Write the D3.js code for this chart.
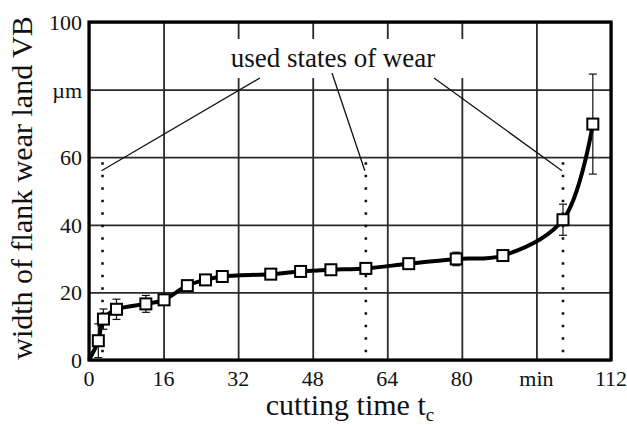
<!DOCTYPE html>
<html lang="en">
  <head>
    <meta charset="utf-8">
    <title>Flank wear over cutting time</title>
    <script src="https://d3js.org/d3.v7.js"></script>
  </head>

  <body style="margin: 0; background: white;">

  <script>

// data

  const cuttingTime = [2.0, 3.1, 5.9, 12.2, 16.1, 21.1, 25.0, 28.6, 39.0, 45.4, 51.9, 59.4, 68.6, 78.8, 88.8, 101.7, 108.1];
  const wearVB      = [5.7, 12.1, 15.0, 16.6, 17.8, 22.0, 23.7, 24.7, 25.4, 26.2, 26.7, 27.1, 28.5, 29.9, 30.9, 41.5, 69.8];
  const wearErr     = [5.0, 3.0, 3.0, 2.5, 1.5, 0.8, 0.8, 0.8, 0.6, 0.6, 0.6, 0.8, 0.8, 2.0, 1.5, 4.6, 14.8];
  const usedStates  = [2.9, 59.4, 101.7];
  const xTicks = [0, 16, 32, 48, 64, 80, 96, 112];
  const xTickLabels = ["0", "16", "32", "48", "64", "80", "min", "112"];
  const yTicks = [0, 20, 40, 60, 80, 100];
  const yTickLabels = ["0", "20", "40", "60", "µm", "100"];

  const w = 627;
  const h = 425;
  const margin = {top: 22, right: 16, bottom: 65, left: 89};
  const innerWidth = w - margin.left - margin.right;
  const innerHeight = h - margin.top - margin.bottom;
  const serif = "'Liberation Serif', 'Times New Roman', serif";

  const xScale = d3.scaleLinear()
      .domain([0, 112])
      .range([0, innerWidth]);

  const yScale = d3.scaleLinear()
      .domain([0, 100])
      .range([innerHeight, 0]);

  const svg = d3.select("body")
    .append("svg")
      .attr("width", w)
      .attr("height", h)
      .attr("font-family", serif);

  const plot = svg.append("g")
      .attr("transform", `translate(${margin.left}, ${margin.top})`);

// grid

  plot.append("g")
      .attr("class", "xGrid")
      .call(d3.axisBottom(xScale).tickValues(xTicks).tickSize(innerHeight).tickFormat(""))
      .call(g => g.select(".domain").remove())
      .selectAll("line")
      .attr("stroke", "#2a2a2a")
      .attr("stroke-width", 1.8);

  plot.append("g")
      .attr("class", "yGrid")
      .call(d3.axisLeft(yScale).tickValues(yTicks).tickSize(-innerWidth).tickFormat(""))
      .call(g => g.select(".domain").remove())
      .selectAll("line")
      .attr("stroke", "#2a2a2a")
      .attr("stroke-width", 1.8);

// white box behind the annotation text

  plot.append("rect")
      .attr("x", 138)
      .attr("y", 17)
      .attr("width", 250)
      .attr("height", 39)
      .attr("fill", "white");

  plot.append("text")
      .attr("x", 244)
      .attr("y", 45)
      .attr("text-anchor", "middle")
      .attr("font-size", 27)
      .attr("fill", "#111")
      .text("used states of wear");

// leader lines and dotted markers

  const leaderStart = [[171, 56], [243, 51], [345, 56]];

  plot.selectAll("line.leader")
    .data(usedStates)
    .enter().append("line")
      .attr("class", "leader")
      .attr("x1", (d, i) => leaderStart[i][0])
      .attr("y1", (d, i) => leaderStart[i][1])
      .attr("x2", d => xScale(d) - 1)
      .attr("y2", yScale(56))
      .attr("stroke", "#111")
      .attr("stroke-width", 1.3);

  plot.selectAll("line.used")
    .data(usedStates)
    .enter().append("line")
      .attr("class", "used")
      .attr("x1", d => xScale(d))
      .attr("x2", d => xScale(d))
      .attr("y1", yScale(58.5))
      .attr("y2", yScale(0))
      .attr("stroke", "#111")
      .attr("stroke-width", 2.6)
      .attr("stroke-dasharray", "2.6 9.9");

// curve through the measurements

  const curvePts = [[0, 0]].concat(cuttingTime.map((t, i) => [t, wearVB[i]]));

  plot.append("path")
      .datum(curvePts)
      .attr("fill", "none")
      .attr("stroke", "black")
      .attr("stroke-width", 4)
      .attr("d", d3.line()
        .x(d => xScale(d[0]))
        .y(d => yScale(d[1]))
        .curve(d3.curveCatmullRom.alpha(0.5)));

// error bars

  const errs = plot.selectAll("g.err")
    .data(cuttingTime)
    .enter().append("g")
      .attr("class", "err")
      .attr("stroke", "#111")
      .attr("stroke-width", 1.2);

  errs.append("line")
      .attr("x1", d => xScale(d))
      .attr("x2", d => xScale(d))
      .attr("y1", (d, i) => yScale(wearVB[i] + wearErr[i]))
      .attr("y2", (d, i) => yScale(wearVB[i] - wearErr[i]));

  errs.append("line")
      .attr("x1", d => xScale(d) - 4)
      .attr("x2", d => xScale(d) + 4)
      .attr("y1", (d, i) => yScale(wearVB[i] + wearErr[i]))
      .attr("y2", (d, i) => yScale(wearVB[i] + wearErr[i]));

  errs.append("line")
      .attr("x1", d => xScale(d) - 4)
      .attr("x2", d => xScale(d) + 4)
      .attr("y1", (d, i) => yScale(wearVB[i] - wearErr[i]))
      .attr("y2", (d, i) => yScale(wearVB[i] - wearErr[i]));

// square markers

  plot.selectAll("rect.pt")
    .data(cuttingTime)
    .enter().append("rect")
      .attr("class", "pt")
      .attr("x", d => xScale(d) - 5.5)
      .attr("y", (d, i) => yScale(wearVB[i]) - 5.5)
      .attr("width", 11)
      .attr("height", 11)
      .attr("fill", "white")
      .attr("stroke", "black")
      .attr("stroke-width", 2);

// frame

  plot.append("rect")
      .attr("width", innerWidth)
      .attr("height", innerHeight)
      .attr("fill", "none")
      .attr("stroke", "black")
      .attr("stroke-width", 3.2);

// tick labels

  plot.selectAll("text.xt")
    .data(xTicks)
    .enter().append("text")
      .attr("class", "xt")
      .attr("x", d => xScale(d))
      .attr("y", innerHeight + 26)
      .attr("text-anchor", "middle")
      .attr("font-size", 22)
      .attr("fill", "#111")
      .text((d, i) => xTickLabels[i]);

  plot.selectAll("text.yt")
    .data(yTicks)
    .enter().append("text")
      .attr("class", "yt")
      .attr("x", -7)
      .attr("y", d => yScale(d) + 8)
      .attr("text-anchor", "end")
      .attr("font-size", 22)
      .attr("fill", "#111")
      .text((d, i) => yTickLabels[i]);

// axis titles

  const xLabel = svg.append("text")
      .attr("x", 350)
      .attr("y", 415)
      .attr("text-anchor", "middle")
      .attr("font-size", 30)
      .attr("fill", "#111");
  xLabel.append("tspan").text("cutting time t");
  xLabel.append("tspan").attr("font-size", 19).attr("dy", 6).text("c");

  svg.append("text")
      .attr("transform", "translate(32, 188) rotate(-90)")
      .attr("text-anchor", "middle")
      .attr("font-size", 30)
      .attr("fill", "#111")
      .text("width of flank wear land VB");

    </script>

  </body>

</html>
